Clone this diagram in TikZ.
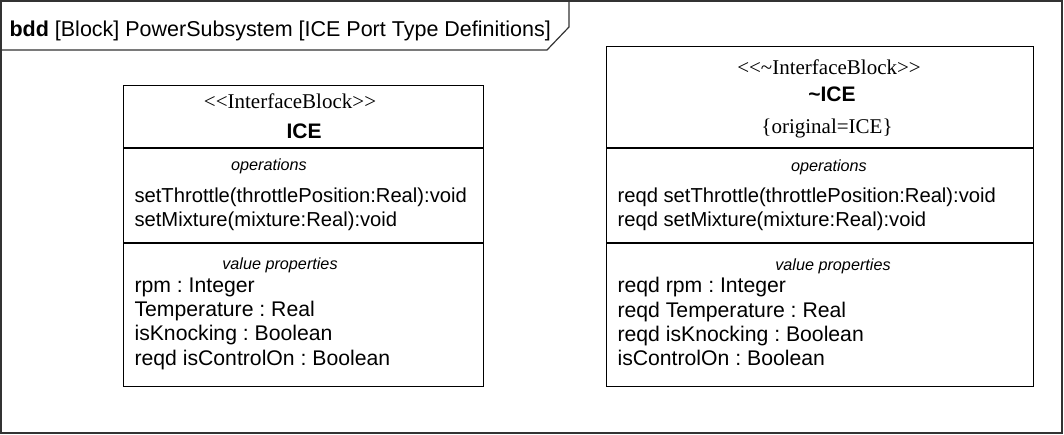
\documentclass[tikz,border=0pt]{standalone}
\usepackage{fontspec}
\setmainfont{Liberation Sans}
\newfontfamily\seriffont{Liberation Serif}
\frenchspacing
\begin{document}
\begin{tikzpicture}[x=1pt,y=-1pt,
  line width=1.1pt,
  body/.style={font=\fontsize{20.2}{24}\selectfont, anchor=base west, inner sep=0pt},
  vbody/.style={font=\fontsize{21.2}{25}\selectfont, anchor=base west, inner sep=0pt},
  comp/.style={font=\fontsize{16.2}{19}\selectfont\itshape, anchor=base, inner sep=0pt},
  stereo/.style={font=\fontsize{21}{25}\selectfont\seriffont, anchor=base, inner sep=0pt},
  bname/.style={font=\fontsize{21}{25}\selectfont\bfseries, anchor=base, inner sep=0pt},
  blockbox/.style={draw=black, line width=1.1pt}]
\useasboundingbox (0,0) rectangle (1064,435);
% frame
\draw[draw=black!80, line width=1.2pt] (1,1) rectangle (1062,433);
\coordinate (t1) at (1,50);
\coordinate (t2) at (547,50);
\coordinate (t3) at (569,27);
\coordinate (t4) at (569,1);
\draw[draw=black!80, line width=1.2pt] (t1) -- (t2) -- (t3) -- (t4);
\node[font=\fontsize{21.5}{25}\selectfont, anchor=base west, inner sep=0pt] (title) at (9,37) {\textbf{bdd} [Block] PowerSubsystem [ICE Port Type Definitions]};
% left block
\node[blockbox, minimum width=360pt, minimum height=301pt, anchor=north west, inner sep=0pt] (L) at (123,85) {};
\draw[line width=1.1pt] (123,148) -- (483,148);
\draw[line width=1.1pt] (123,243) -- (483,243);
\node[stereo] (Ls) at (290,109) {<<InterfaceBlock>>};
\node[bname] (Ln) at (304,139) {ICE};
\node[comp] (Lop) at (269,171) {operations};
\node[body] (Lo1) at (134,203) {setThrottle(throttlePosition:Real):void};
\node[body] (Lo2) at (134,227) {setMixture(mixture:Real):void};
\node[comp] (Lvp) at (280,270) {value properties};
\node[vbody] (Lv1) at (134,292) {rpm : Integer};
\node[vbody] (Lv2) at (134,316) {Temperature : Real};
\node[vbody] (Lv3) at (134,340) {isKnocking : Boolean};
\node[vbody] (Lv4) at (134,365) {reqd isControlOn : Boolean};
% right block
\node[blockbox, minimum width=427pt, minimum height=340pt, anchor=north west, inner sep=0pt] (R) at (606,46) {};
\draw[line width=1.1pt] (606,148) -- (1033,148);
\draw[line width=1.1pt] (606,243) -- (1033,243);
\node[stereo] (Rs) at (829,75) {<<\char"007E InterfaceBlock>>};
\node[bname] (Rn) at (832,102) {\char"007E ICE};
\node[stereo] (Ro) at (827,134) {\{original=ICE\}};
\node[comp] (Rop) at (829,172) {operations};
\node[body] (Ro1) at (617,203) {reqd setThrottle(throttlePosition:Real):void};
\node[body] (Ro2) at (617,227) {reqd setMixture(mixture:Real):void};
\node[comp] (Rvp) at (833,271) {value properties};
\node[vbody] (Rv1) at (617,293) {reqd rpm : Integer};
\node[vbody] (Rv2) at (617,317) {reqd Temperature : Real};
\node[vbody] (Rv3) at (617,341) {reqd isKnocking : Boolean};
\node[vbody] (Rv4) at (617,365) {isControlOn : Boolean};
\end{tikzpicture}
\end{document}
